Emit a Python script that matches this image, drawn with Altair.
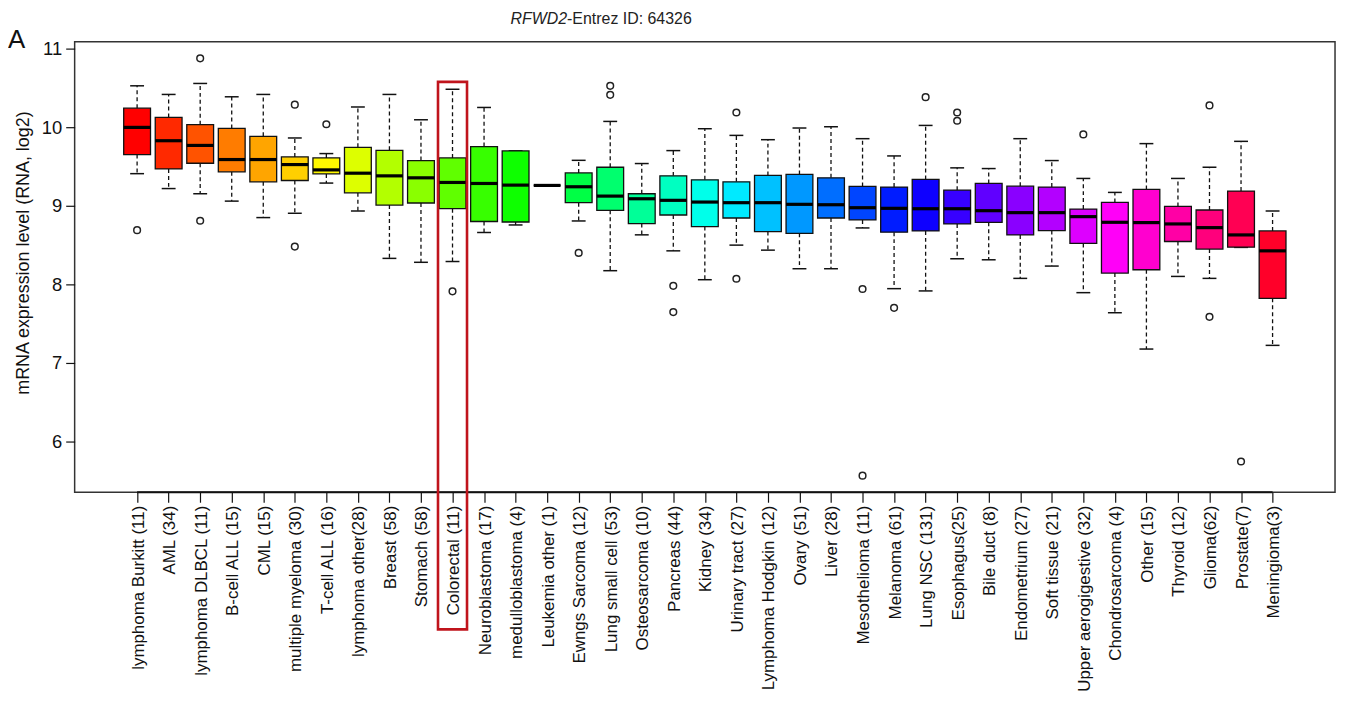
import colorsys
import json
import altair as alt
import pandas as pd

# ---------------- data ----------------
categories = [
    "lymphoma Burkitt (11)", "AML (34)", "lymphoma DLBCL (11)", "B-cell ALL (15)",
    "CML (15)", "multiple myeloma (30)", "T-cell ALL (16)", "lymphoma other(28)",
    "Breast (58)", "Stomach (58)", "Colorectal (11)", "Neuroblastoma (17)",
    "medulloblastoma (4)", "Leukemia other (1)", "Ewngs Sarcoma (12)",
    "Lung small cell (53)", "Osteosarcoma (10)", "Pancreas (44)", "Kidney (34)",
    "Urinary tract (27)", "Lymphoma Hodgkin (12)", "Ovary (51)", "Liver (28)",
    "Mesothelioma (11)", "Melanoma (61)", "Lung NSC (131)", "Esophagus(25)",
    "Bile duct (8)", "Endometrium (27)", "Soft tissue (21)",
    "Upper aerogigestive (32)", "Chondrosarcoma (4)", "Other (15)", "Thyroid (12)",
    "Glioma(62)", "Prostate(7)", "Meningioma(3)",
]
whisker_hi = [10.53, 10.42, 10.56, 10.39, 10.42, 9.865, 9.666, 10.26, 10.42, 10.097,
              10.486, 10.254, 9.70, 9.26, 9.58, 10.076, 9.539, 9.704, 9.983, 9.898,
              9.843, 9.992, 10.008, 9.856, 9.636, 10.025, 9.484, 9.475, 9.856, 9.577,
              9.349, 9.171, 9.793, 9.349, 9.492, 9.822, 8.934]
q3 = [10.245, 10.127, 10.034, 9.987, 9.886, 9.623, 9.61, 9.746, 9.708, 9.577,
      9.61, 9.755, 9.70, 9.26, 9.42, 9.492, 9.154, 9.382, 9.332, 9.306,
      9.387, 9.40, 9.357, 9.247, 9.239, 9.336, 9.20, 9.285, 9.251, 9.239,
      8.959, 9.044, 9.209, 8.993, 8.947, 9.188, 8.68]
medians = [10.00, 9.83, 9.77, 9.59, 9.59, 9.526, 9.458, 9.416, 9.382, 9.357,
           9.298, 9.285, 9.264, 9.26, 9.243, 9.124, 9.09, 9.07, 9.048, 9.04,
           9.04, 9.019, 9.014, 8.976, 8.968, 8.963, 8.963, 8.938, 8.913, 8.913,
           8.862, 8.79, 8.786, 8.769, 8.722, 8.629, 8.426]
q1 = [9.653, 9.47, 9.543, 9.433, 9.306, 9.323, 9.407, 9.166, 9.01, 9.036,
      8.963, 8.80, 8.794, 9.26, 9.04, 8.943, 8.773, 8.883, 8.735, 8.845,
      8.672, 8.65, 8.845, 8.82, 8.664, 8.68, 8.769, 8.79, 8.629, 8.684,
      8.52, 8.143, 8.185, 8.545, 8.448, 8.473, 7.821]
whisker_lo = [9.41, 9.22, 9.154, 9.06, 8.85, 8.905, 9.29, 8.934, 8.33, 8.28,
              8.29, 8.66, 8.756, 9.26, 8.807, 8.173, 8.63, 8.426, 8.058, 8.499,
              8.435, 8.198, 8.198, 8.718, 7.944, 7.915, 8.325, 8.312, 8.075, 8.232,
              7.893, 7.637, 7.174, 8.10, 8.075, 8.47, 7.221]

outlier_cat = [1, 3, 3, 6, 6, 7, 11, 15, 16, 16, 18, 18, 20, 20, 24, 24, 25, 26,
               27, 27, 31, 35, 35, 36]
outlier_val = [8.69, 10.88, 8.81, 10.29, 8.48, 10.04, 7.91, 8.40, 10.53, 10.415,
               7.98, 7.645, 10.19, 8.07, 7.94, 5.56, 7.70, 10.385, 10.19, 10.085,
               9.91, 10.28, 7.585, 5.74]

y_ticks = [6, 7, 8, 9, 10, 11]
highlight_category = "Colorectal (11)"

# ---------------- styling / layout ----------------
FONT = "Liberation Sans"
X_DOMAIN = [-0.98, 38.98]
Y_DOMAIN = [5.348, 11.093]
BOX_HALF = 0.425
CAP_HALF = 0.22

n = len(categories)
rainbow = []
for i in range(n):
    r, g, b = colorsys.hsv_to_rgb(i / n, 1.0, 1.0)
    rainbow.append("#%02x%02x%02x" % (round(r * 255), round(g * 255), round(b * 255)))

df = pd.DataFrame({
    "cat": categories,
    "pos": list(range(1, n + 1)),
    "hi": whisker_hi, "q3": q3, "med": medians, "q1": q1, "lo": whisker_lo,
    "color": rainbow,
})
df["box_l"] = df["pos"] - BOX_HALF
df["box_r"] = df["pos"] + BOX_HALF
df["cap_l"] = df["pos"] - CAP_HALF
df["cap_r"] = df["pos"] + CAP_HALF

out_df = pd.DataFrame({"pos": outlier_cat, "val": outlier_val})

xs = alt.Scale(domain=X_DOMAIN, nice=False, zero=False)
ys = alt.Scale(domain=Y_DOMAIN, nice=False, zero=False)

label_expr = json.dumps(categories) + "[datum.value - 1]"

X_AXIS = alt.Axis(values=list(range(1, n + 1)), labelExpr=label_expr, title=None,
                  labelAngle=-90, labelAlign="right", labelBaseline="middle",
                  labelFont=FONT, labelFontSize=17, labelColor="#111",
                  labelPadding=3, labelLimit=400, labelOverlap=False, labelFlush=False,
                  labelOffset=1,
                  tickSize=10, tickColor="#111", tickWidth=1.2,
                  domain=False, grid=False)
Y_AXIS = alt.Axis(values=y_ticks, labelFont=FONT, labelFontSize=18.5, labelColor="#111",
                  labelPadding=4, tickSize=9, tickColor="#111", tickWidth=1.2,
                  domain=False, grid=False, title=None)


def X(f):
    return alt.X(f + ":Q", scale=xs, axis=X_AXIS, title=None)


def Y(f):
    return alt.Y(f + ":Q", scale=ys, axis=Y_AXIS, title=None)


base = alt.Chart(df)

whisk_up = base.mark_rule(color="#111", strokeWidth=1.3, strokeDash=[4, 3]).encode(
    x=X("pos"), y=Y("q3"), y2="hi:Q")
whisk_dn = base.mark_rule(color="#111", strokeWidth=1.3, strokeDash=[4, 3]).encode(
    x=X("pos"), y=Y("q1"), y2="lo:Q")
cap_up = base.mark_rule(color="#111", strokeWidth=1.5).encode(
    x=X("cap_l"), x2="cap_r:Q", y=Y("hi"))
cap_dn = base.mark_rule(color="#111", strokeWidth=1.5).encode(
    x=X("cap_l"), x2="cap_r:Q", y=Y("lo"))
boxes = base.mark_rect(stroke="#111", strokeWidth=1.3).encode(
    x=X("box_l"), x2="box_r:Q", y=Y("q1"), y2="q3:Q",
    fill=alt.Fill("color:N", scale=None))
med_line = base.mark_rule(color="#000", strokeWidth=3.2).encode(
    x=X("box_l"), x2="box_r:Q", y=Y("med"))
outliers = alt.Chart(out_df).mark_point(
    shape="circle", filled=False, size=45, strokeWidth=1.5, color="#222", opacity=1).encode(
    x=X("pos"), y=Y("val"))

axis_line_df = pd.DataFrame({"x1": [1], "x2": [n], "y": [Y_DOMAIN[0]]})
axis_line = alt.Chart(axis_line_df).mark_rule(color="#111", strokeWidth=2).encode(
    x=X("x1"), x2="x2:Q", y=Y("y"))

hi_idx = categories.index(highlight_category) + 1
hl_df = pd.DataFrame({"l": [hi_idx - 0.46], "r": [hi_idx + 0.46],
                      "top": [10.58], "bot": [3.6]})
highlight = alt.Chart(hl_df).mark_rect(
    fill=None, fillOpacity=0, stroke="#c0141c", strokeWidth=2.6).encode(
    x=X("l"), x2="r:Q", y=Y("top"), y2="bot:Q")

one = pd.DataFrame({"t": ["x"]})
title_it = alt.Chart(one).mark_text(
    font=FONT, fontSize=16, fontStyle="italic", align="right", baseline="alphabetic",
    color="#222").encode(x=alt.value(495), y=alt.value(-17.3), text=alt.value("RFWD2"))
title_rest = alt.Chart(one).mark_text(
    font=FONT, fontSize=16, align="left", baseline="alphabetic",
    color="#222").encode(x=alt.value(495), y=alt.value(-17.3),
                         text=alt.value("-Entrez ID: 64326"))
panel = alt.Chart(one).mark_text(
    font=FONT, fontSize=26, align="left", baseline="alphabetic",
    color="#111").encode(x=alt.value(-67), y=alt.value(6.7), text=alt.value("A"))
ytitle = alt.Chart(one).mark_text(
    font=FONT, fontSize=18, align="center", baseline="alphabetic", angle=270,
    color="#111").encode(x=alt.value(-45.5), y=alt.value(212.5),
                         text=alt.value("mRNA expression level (RNA, log2)"))

chart = alt.layer(
    whisk_up, whisk_dn, cap_up, cap_dn, boxes, med_line, outliers,
    axis_line, highlight, title_it, title_rest, panel, ytitle,
).properties(
    width=1267, height=453,
    autosize=alt.AutoSizeParams(type="none"),
    padding={"left": 67, "top": 32, "right": 5, "bottom": 210},
    background="white",
).configure_view(
    stroke="#333", strokeWidth=1.5
)

chart.save("out.html", embed_options={"renderer": "svg", "actions": False})
